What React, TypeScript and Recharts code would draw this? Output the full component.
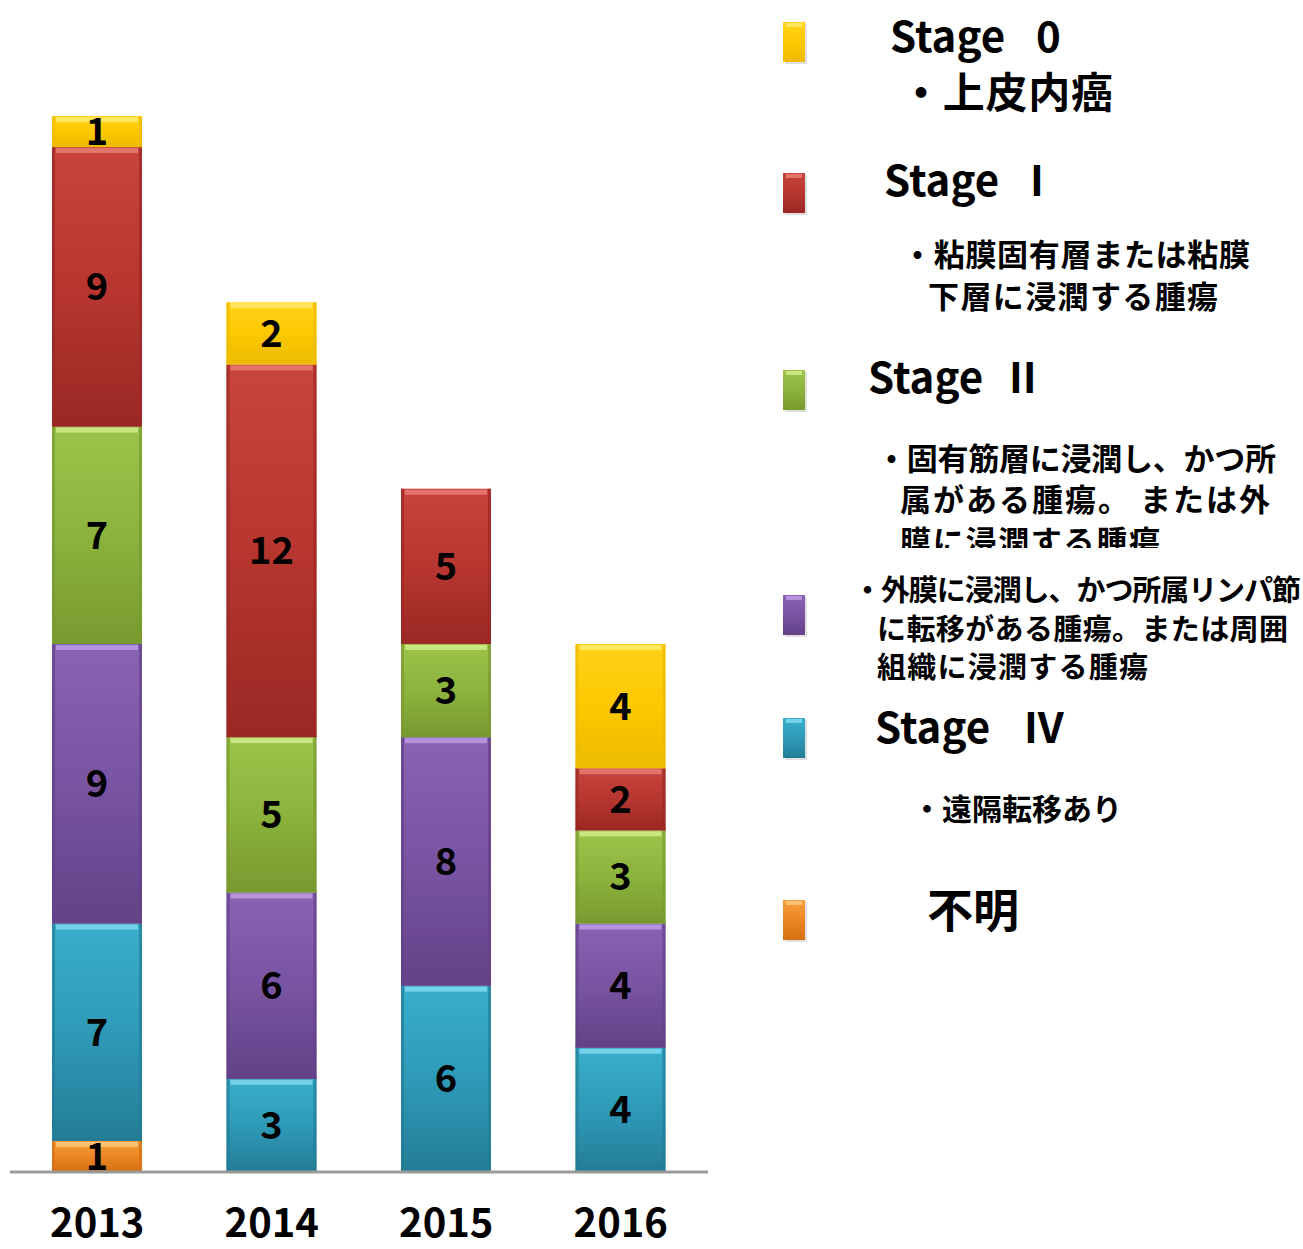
import React from "react";
import { BarChart, Bar, XAxis, YAxis, LabelList } from "recharts";

const years = ["2013", "2014", "2015", "2016"];
const unknownCounts = [1, 0, 0, 0];
const stage4Counts = [7, 3, 6, 4];
const stage3Counts = [9, 6, 8, 4];
const stage2Counts = [7, 5, 3, 3];
const stage1Counts = [9, 12, 5, 2];
const stage0Counts = [1, 2, 0, 4];

const FONT = "'Noto Sans CJK JP', 'Noto Sans', sans-serif";

// stacking order: bottom first
const SERIES = [
    { key: "unknown", values: unknownCounts, top: "#F5A03C", mid: "#EC8624", bottom: "#D56F12", hi: "#FFD08A" },
    { key: "stage4", values: stage4Counts, top: "#38AECB", mid: "#2E9AB8", bottom: "#247C96", hi: "#8FE3F5" },
    { key: "stage3", values: stage3Counts, top: "#8A62B4", mid: "#7954A2", bottom: "#634287", hi: "#C9A9EC" },
    { key: "stage2", values: stage2Counts, top: "#9CC44A", mid: "#8CB33C", bottom: "#779A30", hi: "#DCF39A" },
    { key: "stage1", values: stage1Counts, top: "#C8443D", mid: "#B83630", bottom: "#9A2824", hi: "#F08A80" },
    { key: "stage0", values: stage0Counts, top: "#FFD21A", mid: "#FCC800", bottom: "#EDBB00", hi: "#FFF07A" },
];

const data = years.map((year, i) => {
    const row: any = { year };
    SERIES.forEach(s => { row[s.key] = s.values[i]; });
    return row;
});

const BevelBar = (props: any) => {
    const { x, y, width, height, s } = props;
    if (!height || height <= 0) return null;
    return (
        <g>
            <rect x={x} y={y} width={width} height={height} fill={`url(#grad-${s.key})`} />
            <rect x={x + 4} y={y + 1} width={width - 8} height={5} fill={s.hi} opacity={0.7} />
            <rect x={x} y={y} width={3} height={height} fill={s.bottom} opacity={0.7} />
            <rect x={x + width - 3} y={y} width={3} height={height} fill={s.bottom} opacity={0.7} />
            <rect x={x} y={y + height - 2} width={width} height={2} fill={s.bottom} opacity={0.8} />
        </g>
    );
};

const Swatch = ({ s, cy }: any) => (
    <g>
        <rect x={785} y={cy - 18} width={22} height={40} fill="#000" opacity={0.12} />
        <rect x={783} y={cy - 20} width={22} height={40} fill={`url(#grad-${s.key})`} />
        <rect x={786} y={cy - 19} width={16} height={4} fill={s.hi} opacity={0.7} />
    </g>
);

const Legend = () => {
    const byKey: any = {};
    SERIES.forEach(s => { byKey[s.key] = s; });
    const head = { fontFamily: FONT, fontWeight: 700, fontSize: 42, fill: "#000" };
    const note = { fontFamily: FONT, fontWeight: 700, fill: "#000" };
    return (
        <svg width={1303} height={1249} style={{ position: "absolute", left: 0, top: 0, pointerEvents: "none" }}>
            <defs>
                {SERIES.map(s => (
                    <linearGradient key={s.key} id={`grad-${s.key}`} x1="0" y1="0" x2="0" y2="1">
                        <stop offset="0%" stopColor={s.top} />
                        <stop offset="50%" stopColor={s.mid} />
                        <stop offset="100%" stopColor={s.bottom} />
                    </linearGradient>
                ))}
                <clipPath id="clip-stage2">
                    <rect x={850} y={420} width={453} height={128} />
                </clipPath>
            </defs>

            <Swatch s={byKey.stage0} cy={42} />
            <text x={890} y={52} {...head}>Stage <tspan x={1036}>0</tspan></text>
            <text x={900} y={108} {...note} fontSize={42} textLength={213}>・上皮内癌</text>

            <Swatch s={byKey.stage1} cy={193} />
            <text x={884} y={196} {...head}>Stage <tspan x={1030}>I</tspan></text>
            <text x={902} y={266} {...note} fontSize={31} textLength={348}>・粘膜固有層または粘膜</text>
            <text x={928} y={308} {...note} fontSize={31} textLength={290}>下層に浸潤する腫瘍</text>

            <Swatch s={byKey.stage2} cy={390} />
            <text x={868} y={393} {...head}>Stage <tspan x={1009}>II</tspan></text>
            <g clipPath="url(#clip-stage2)">
                <text x={876} y={470} {...note} fontSize={31} textLength={400}>・固有筋層に浸潤し、かつ所</text>
                <text x={900} y={511} {...note} fontSize={31} textLength={370}>属がある腫瘍。 または外</text>
                <text x={900} y={553} {...note} fontSize={31} textLength={260}>膜に浸潤する腫瘍</text>
            </g>

            <Swatch s={byKey.stage3} cy={615} />
            <text x={853} y={601} {...note} fontSize={29} textLength={448}>・外膜に浸潤し、かつ所属リンパ節</text>
            <text x={877} y={640} {...note} fontSize={29} textLength={411}>に転移がある腫瘍。または周囲</text>
            <text x={877} y={678} {...note} fontSize={29} textLength={271}>組織に浸潤する腫瘍</text>

            <Swatch s={byKey.stage4} cy={738} />
            <text x={875} y={743} {...head}>Stage <tspan x={1024}>IV</tspan></text>
            <text x={912} y={820} {...note} fontSize={30} textLength={210}>・遠隔転移あり</text>

            <Swatch s={byKey.unknown} cy={920} />
            <text x={927} y={927} {...note} fontSize={46}>不明</text>
        </svg>
    );
};

const App: React.FC = () => {
    return (
        <div style={{ position: "absolute", left: 0, top: 0, width: 1303, height: 1249, background: "#fff" }}>
            <Legend />
            <div style={{ position: "absolute", left: 0, top: 0 }}>
                <BarChart width={708} height={1249} data={data} margin={{ top: 116, right: 0, bottom: 0, left: 10 }} barCategoryGap={0}>
                    <XAxis
                        dataKey="year"
                        height={77}
                        tickLine={false}
                        axisLine={{ stroke: "#9A9A9A", strokeWidth: 3 }}
                        tickMargin={31}
                        tick={{ fill: "#000", fontSize: 40, fontWeight: 700, fontFamily: FONT }}
                    />
                    <YAxis hide domain={[0, 34]} />
                    {SERIES.map(s => (
                        <Bar
                            key={s.key}
                            dataKey={s.key}
                            stackId="a"
                            barSize={90}
                            fill={s.mid}
                            isAnimationActive={false}
                            shape={(p: any) => <BevelBar {...p} s={s} />}
                        >
                            <LabelList
                                dataKey={s.key}
                                position="center"
                                formatter={(v: any) => (v ? v : "")}
                                style={{ fill: "#000", fontSize: 38, fontWeight: 700, fontFamily: FONT }}
                            />
                        </Bar>
                    ))}
                </BarChart>
            </div>
        </div>
    );
};

export default App;
